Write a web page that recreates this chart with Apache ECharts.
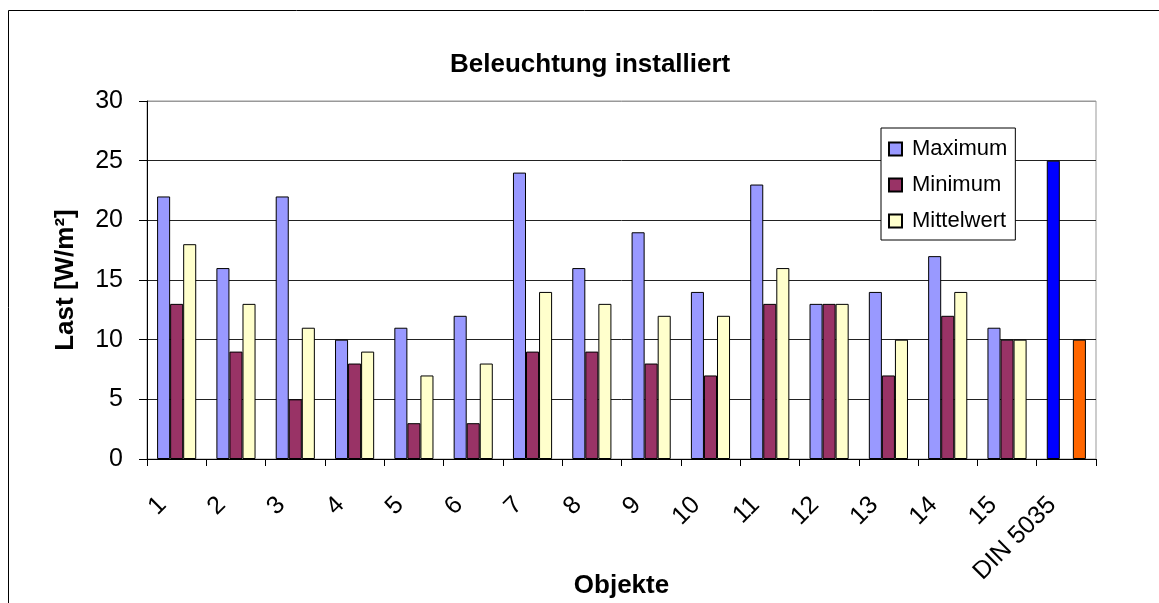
<!DOCTYPE html>
<html>
<head>
<meta charset="utf-8">
<title>Beleuchtung installiert</title>
<script src="https://cdn.jsdelivr.net/npm/echarts@6/dist/echarts.min.js"></script>
<style>
	html, body { margin: 0; padding: 0; background: #fff; }
	#chart { width: 1159px; height: 603px; }
</style>
</head>
<body>
<div id="chart"></div>
<script>
// Daten
const categories = ['1', '2', '3', '4', '5', '6', '7', '8', '9', '10', '11', '12', '13', '14', '15', 'DIN 5035'];
const maximum = [22, 16, 22, 10, 11, 12, 24, 16, 19, 14, 23, 13, 14, 17, 11, 25];
const minimum = [13, 9, 5, 8, 3, 3, 9, 9, 8, 7, 13, 13, 7, 12, 10, null];
const mittelwert = [18, 13, 11, 9, 7, 8, 14, 13, 12, 12, 16, 13, 10, 14, 10, 10];
const yTicks = [0, 5, 10, 15, 20, 25, 30];

const fontFamily = '"Liberation Sans", Arial, sans-serif';
const lastIdx = categories.length - 1;

// DIN-Werte werden einzeln eingefärbt
function withDinColor(values, dinColor) {
	return values.map((v, i) => {
		if (i === lastIdx) {
			return { value: v, itemStyle: { color: dinColor } };
		}
		return v;
	});
}

const chart = echarts.init(document.getElementById('chart'));

const barStyle = (color) => ({ color: color, borderColor: '#000', borderWidth: 1 });

const option = {
	animation: false,
	backgroundColor: '#fff',
	textStyle: { fontFamily: fontFamily, color: '#000' },
	title: {
		text: 'Beleuchtung installiert',
		left: 445,
		top: 47,
		textStyle: { fontFamily: fontFamily, fontSize: 26, fontWeight: 'bold', color: '#000' }
	},
	graphic: [
		{
			type: 'rect',
			shape: { x: 8.5, y: 10.5, width: 1200, height: 700 },
			style: { fill: 'none', stroke: '#000', lineWidth: 1 },
			silent: true,
			z: -1
		}
	],
	legend: {
		orient: 'vertical',
		left: 881,
		top: 128,
		padding: [10, 8, 8, 7],
		itemGap: 14,
		itemWidth: 13,
		itemHeight: 13,
		icon: 'rect',
		backgroundColor: '#fff',
		borderColor: '#000',
		borderWidth: 1,
		textStyle: { fontFamily: fontFamily, fontSize: 22, color: '#000', padding: [0, 0, 0, 5] },
		data: ['Maximum', 'Minimum', 'Mittelwert']
	},
	grid: {
		left: 147,
		right: 63,
		top: 101,
		bottom: 144,
		outerBoundsMode: 'none',
		show: true,
		borderColor: '#999',
		borderWidth: 1
	},
	xAxis: {
		type: 'category',
		data: categories,
		name: 'Objekte',
		nameLocation: 'middle',
		nameGap: 114,
		nameMoveOverlap: false,
		nameTextStyle: { fontFamily: fontFamily, fontSize: 26, fontWeight: 'bold', color: '#000' },
		axisLine: { lineStyle: { color: '#000', width: 1 } },
		axisTick: { show: true, length: 7, lineStyle: { color: '#000' } },
		axisLabel: {
			rotate: 45,
			margin: 28,
			padding: [0, 20, 0, 0],
			fontFamily: fontFamily,
			fontSize: 25,
			color: '#000',
			interval: 0
		}
	},
	yAxis: {
		type: 'value',
		min: yTicks[0],
		max: yTicks[yTicks.length - 1],
		interval: yTicks[1] - yTicks[0],
		name: 'Last [W/m²]',
		nameLocation: 'middle',
		nameGap: 68,
		nameMoveOverlap: false,
		nameTextStyle: { fontFamily: fontFamily, fontSize: 26, fontWeight: 'bold', color: '#000' },
		axisLine: { show: true, lineStyle: { color: '#000', width: 1 } },
		axisTick: { show: true, length: 8, lineStyle: { color: '#000' } },
		axisLabel: { fontFamily: fontFamily, fontSize: 25, color: '#000', margin: 24 },
		splitLine: {
			show: true,
			lineStyle: { color: ['#222', '#222', '#222', '#222', '#222', '#222', '#999'], width: 1 }
		}
	},
	series: [
		{
			name: 'Maximum',
			type: 'bar',
			data: withDinColor(maximum, '#0000FF'),
			itemStyle: barStyle('#9999FF'),
			barGap: '0%',
			barCategoryGap: '34%'
		},
		{
			name: 'Minimum',
			type: 'bar',
			data: minimum,
			itemStyle: barStyle('#993366')
		},
		{
			name: 'Mittelwert',
			type: 'bar',
			data: withDinColor(mittelwert, '#FF6600'),
			itemStyle: barStyle('#FFFFCC')
		}
	]
};

chart.setOption(option);

window.addEventListener('resize', () => {
	chart.resize();
});
</script>
</body>
</html>
